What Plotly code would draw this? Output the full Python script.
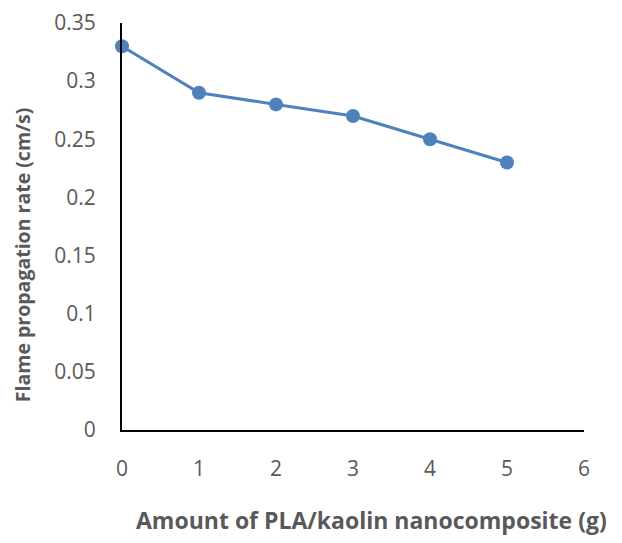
import plotly.graph_objects as go

amount_g = [0, 1, 2, 3, 4, 5]
flame_rate = [0.33, 0.29, 0.28, 0.27, 0.25, 0.23]
x_ticks = [0, 1, 2, 3, 4, 5, 6]
y_ticks = [0, 0.05, 0.1, 0.15, 0.2, 0.25, 0.3, 0.35]
y_tick_labels = ["0", "0.05", "0.1", "0.15", "0.2", "0.25", "0.3", "0.35"]
x_title = "Amount of PLA/kaolin nanocomposite (g)"
y_title = "Flame propagation rate (cm/s)"

fig = go.Figure()
fig.add_trace(go.Scatter(
    x=amount_g, y=flame_rate, mode="lines+markers",
    line=dict(color="#4F81BD", width=3),
    marker=dict(color="#4F81BD", size=14),
    showlegend=False,
    cliponaxis=False,
))

gray = "#595959"
fig.update_layout(
    width=622, height=543,
    margin=dict(l=114, r=46, t=15, b=121),
    paper_bgcolor="white", plot_bgcolor="white",
    font=dict(family="Open Sans", size=21, color=gray),
    xaxis=dict(
        range=[0, 6], tickvals=x_ticks, showgrid=False, zeroline=False,
        showline=True, linecolor="black", linewidth=2,
        ticks="", ticklabelstandoff=19, automargin=False,
    ),
    yaxis=dict(
        range=[0, 0.35], tickvals=y_ticks, ticktext=y_tick_labels,
        showgrid=False, zeroline=False,
        showline=True, linecolor="black", linewidth=2,
        ticks="", ticklabelstandoff=20, automargin=False,
    ),
    annotations=[
        dict(text="<b>" + x_title + "</b>", xref="paper", yref="paper",
             x=0.539, y=-0.221, xanchor="center", yanchor="middle",
             showarrow=False, font=dict(size=23, color=gray)),
        dict(text="<b>" + y_title + "</b>", xref="paper", yref="paper",
             x=-0.2165, y=0.432, xanchor="center", yanchor="middle",
             textangle=-90, showarrow=False, font=dict(size=19.5, color=gray)),
    ],
)

fig.write_html("out.html")
